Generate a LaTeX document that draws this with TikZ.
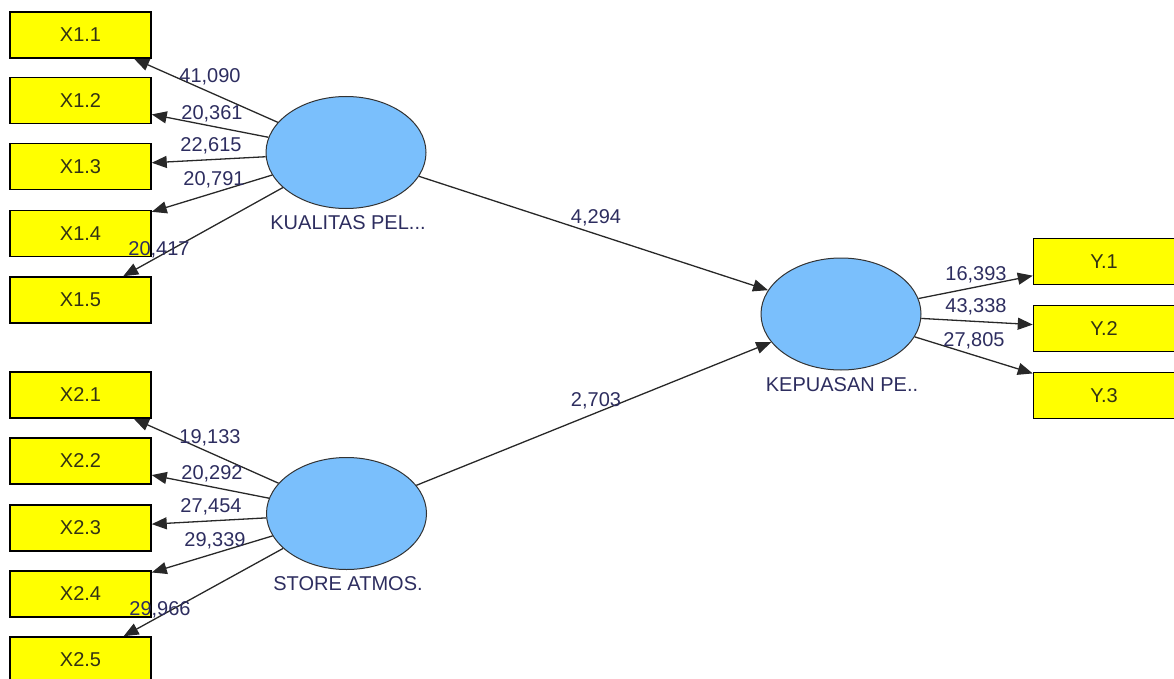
\documentclass[tikz,border=0pt]{standalone}
\usepackage{fontspec}
\setmainfont{Liberation Sans}
\usetikzlibrary{arrows.meta,shapes.geometric}
\definecolor{boxyellow}{RGB}{255,255,0}
\definecolor{lvblue}{RGB}{122,191,252}
\definecolor{lbl}{RGB}{45,45,95}
\definecolor{ln}{RGB}{40,40,40}
\definecolor{boxtext}{RGB}{50,50,20}
\begin{document}
\begin{tikzpicture}[x=1pt,y=-1pt,
  font=\fontsize{20}{23}\selectfont,
  ind/.style={draw=black, line width=1.5pt, fill=boxyellow, minimum width=141pt, minimum height=46pt, inner sep=0pt, text=boxtext},
  lv/.style={ellipse, draw=black!80, line width=1pt, fill=lvblue, minimum width=160pt, minimum height=112pt, inner sep=0pt},
  arr/.style={draw=ln, line width=1.3pt, -{Triangle[length=15pt,width=12pt]}},
  val/.style={text=lbl, inner sep=0pt},
  lvname/.style={text=lbl, inner sep=0pt}]
\useasboundingbox (0,0) rectangle (1174,679);

% indicator boxes
\node[ind] (x11) at (80.5,35) {X1.1};
\node[ind] (x12) at (80.5,100.5) {X1.2};
\node[ind] (x13) at (80.5,166.5) {X1.3};
\node[ind] (x14) at (80.5,233.5) {X1.4};
\node[ind] (x15) at (80.5,300) {X1.5};

\node[ind] (x21) at (80.5,395) {X2.1};
\node[ind] (x22) at (80.5,461) {X2.2};
\node[ind] (x23) at (80.5,528) {X2.3};
\node[ind] (x24) at (80.5,594) {X2.4};
\node[ind] (x25) at (80.5,660) {X2.5};

\node[ind] (y1) at (1104,261.5) {Y.1};
\node[ind] (y2) at (1104,328.5) {Y.2};
\node[ind] (y3) at (1104,395.5) {Y.3};

% latent variables
\node[lv] (kp) at (346,152.5) {};
\node[lv] (sa) at (346.5,513.5) {};
\node[lv] (ke) at (841,314) {};
\node[lvname] (kpn) at (348,223) {KUALITAS PEL...};
\node[lvname] (san) at (348,584) {STORE ATMOS.};
\node[lvname] (ken) at (842,385) {KEPUASAN PE..};

% connectors
\draw[arr] (kp) -- (x11);
\draw[arr] (kp) -- (x12);
\draw[arr] (kp) -- (x13);
\draw[arr] (kp) -- (x14);
\draw[arr] (kp) -- (x15);
\draw[arr] (sa) -- (x21);
\draw[arr] (sa) -- (x22);
\draw[arr] (sa) -- (x23);
\draw[arr] (sa) -- (x24);
\draw[arr] (sa) -- (x25);
\draw[arr] (ke) -- (y1);
\draw[arr] (ke) -- (y2);
\draw[arr] (ke) -- (y3);
\draw[arr] (kp) -- (ke);
\draw[arr] (sa) -- (ke);

% values
\node[val] (v11) at (210,77) {41,090};
\node[val] (v12) at (212,114) {20,361};
\node[val] (v13) at (211,146) {22,615};
\node[val] (v14) at (214,180) {20,791};
\node[val] (v15) at (159,250) {20,417};
\node[val] (v21) at (210,438) {19,133};
\node[val] (v22) at (212,474) {20,292};
\node[val] (v23) at (211,507) {27,454};
\node[val] (v24) at (215,541) {29,339};
\node[val] (v25) at (160,610) {29,966};
\node[val] (vy1) at (976,275) {16,393};
\node[val] (vy2) at (976,307) {43,338};
\node[val] (vy3) at (974,341) {27,805};
\node[val] (vk) at (596,218) {4,294};
\node[val] (vs) at (596,401) {2,703};
\end{tikzpicture}
\end{document}
